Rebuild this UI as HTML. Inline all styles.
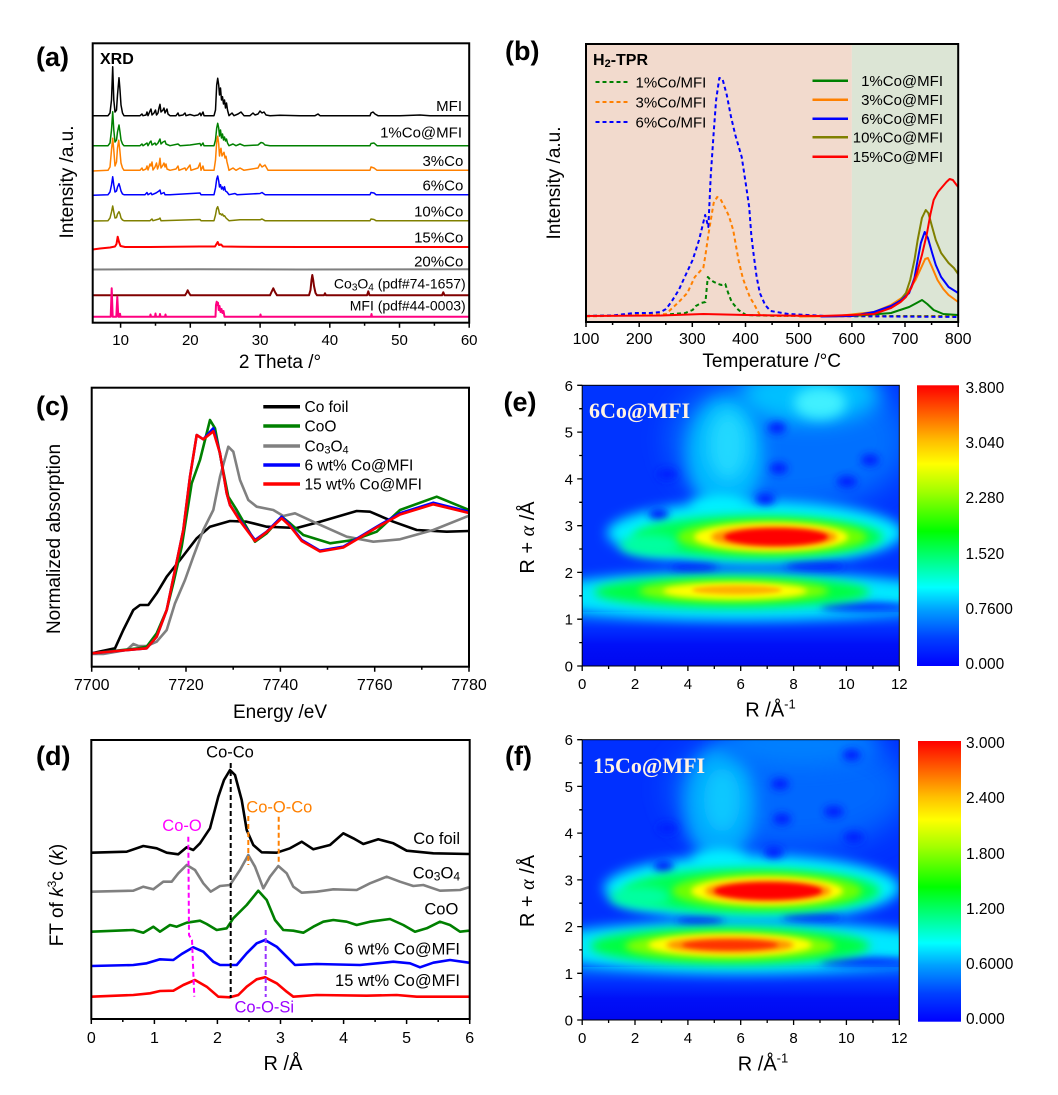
<!DOCTYPE html>
<html><head><meta charset="utf-8"><style>
html,body{margin:0;padding:0;background:#fff;}
svg{display:block;font-family:"Liberation Sans",Arial,sans-serif;}
</style></head><body>
<svg width="1058" height="1095" viewBox="0 0 1058 1095" xmlns="http://www.w3.org/2000/svg">
<defs>
<filter id="b2" filterUnits="userSpaceOnUse" x="0" y="0" width="1058" height="1095"><feGaussianBlur stdDeviation="2"/></filter>
<filter id="b3" filterUnits="userSpaceOnUse" x="0" y="0" width="1058" height="1095"><feGaussianBlur stdDeviation="3"/></filter>
<filter id="b4" filterUnits="userSpaceOnUse" x="0" y="0" width="1058" height="1095"><feGaussianBlur stdDeviation="4"/></filter>
<filter id="b5" filterUnits="userSpaceOnUse" x="0" y="0" width="1058" height="1095"><feGaussianBlur stdDeviation="5"/></filter>
<filter id="b6" filterUnits="userSpaceOnUse" x="0" y="0" width="1058" height="1095"><feGaussianBlur stdDeviation="6"/></filter>
<filter id="b8" filterUnits="userSpaceOnUse" x="0" y="0" width="1058" height="1095"><feGaussianBlur stdDeviation="8"/></filter>
<filter id="b10" filterUnits="userSpaceOnUse" x="0" y="0" width="1058" height="1095"><feGaussianBlur stdDeviation="10"/></filter>
<filter id="b15" filterUnits="userSpaceOnUse" x="0" y="0" width="1058" height="1095"><feGaussianBlur stdDeviation="15"/></filter>
<clipPath id="clipE"><rect x="582.2" y="385.3" width="317.1" height="280.7"/></clipPath>
<clipPath id="clipF"><rect x="582.2" y="739.7" width="317.1" height="280.3"/></clipPath>
<linearGradient id="botE" x1="0" y1="0" x2="0" y2="1">
<stop offset="0" stop-color="#0068ff"/><stop offset="0.3" stop-color="#0030ff"/><stop offset="0.6" stop-color="#0010f8"/><stop offset="1" stop-color="#0008f0"/>
</linearGradient>
<linearGradient id="cbar" x1="0" y1="1" x2="0" y2="0">
<stop offset="0" stop-color="#0000ff"/><stop offset="0.1" stop-color="#0040ff"/><stop offset="0.2" stop-color="#00a0ff"/><stop offset="0.28" stop-color="#00ffff"/><stop offset="0.38" stop-color="#00ff80"/><stop offset="0.48" stop-color="#00ff00"/><stop offset="0.62" stop-color="#a0ff00"/><stop offset="0.72" stop-color="#ffff00"/><stop offset="0.8" stop-color="#ffc000"/><stop offset="0.9" stop-color="#ff6000"/><stop offset="1" stop-color="#ff0000"/>
</linearGradient>
</defs>
<rect width="1058" height="1095" fill="#fff"/>

<!-- ================= (a) XRD ================= -->
<g fill="none" stroke-width="1.5" stroke-linejoin="round">
<polyline stroke="#000" points="92.7,115.7 108,115.7 110,113 111.5,100 112.7,66.7 113.8,100 115,112 116.5,110 117.5,95 119,77.7 120,90 121,105 122.5,113 124,115.7 140,115.7 142,114 143,115.7 146,115 147,112 148,115.7 150,111 151,109 152,115 154,113 155.5,110 156.5,115 158,113 159,108 160,104.3 161,112 163,110 164,108 165,113 166,111 167,109 168,114 170,115.7 176,115.7 178,113 179,115.7 183,115 185,113 186,115.7 190,114.5 194,115.7 198,115 200,113 201,115.7 203,112 204,115.7 214,115.7 215.5,110 216.7,85 217.7,78.3 218.7,85 219.5,95 220.5,88 221.5,100 222.5,96.7 223.5,104 224.5,100 225.5,108 226.5,103 227.5,110 229,115.7 232,113 234,115.7 238,114 241,112 244,115.7 250,115.7 253,113 255,115 258,114 260,111 262,113 264,112 266,115 270,115.7 280,115.3 300,115.7 315,115.7 318,114 320,115.7 340,115.7 370,115.7 371,113 373,112 375,114 378,115.7 400,115.7 420,115 430,115.7 469,115.7"/>
<polyline stroke="#008000" points="92.7,145.7 108,145.7 110,143 111.5,130 112.7,111.7 113.8,130 115,142 116.5,140 117.5,132 119,125 120,132 121,140 122.5,144 124,145.7 140,145.7 142,144 143,145.7 147,143 148,145.7 150,142 151,141 152,145 155,143 156,145 158,143 159,141 160,139 161,144 163,142 165,141 166,144 170,145.7 178,144 180,145.7 190,145 200,143.5 201,145.7 203,143 204,145.7 214,145.7 215.5,140 216.7,128 217.7,123.3 218.7,128 219.5,136 220.5,130 221.5,138 222.5,134 223.5,140 224.5,137 225.5,141 226.5,139 227.5,143 229,145.7 233,144 236,145.7 240,144 244,145.7 258,145 261,142.5 263,143 265,145 270,145.7 300,145.7 370,145.7 371,143.5 374,143 377,145.7 469,145.7"/>
<polyline stroke="#ff8000" points="92.7,171 108,170.3 110,167 111.5,150 112.7,138.3 113.8,150 115,166 116.5,162 117.5,148 118.7,140.3 119.8,150 121,163 122.5,168 124,170.3 140,170.3 142,168 143,170.3 146,169 147,166 148,170 150,164 151,166 152,162 153,170 155,167 156.5,163 157.5,169 159,165 160,158.3 161,168 163,165 164,163 165,167 166,164 167,169 170,170.3 176,169 178,166 179,170.3 185,168 186,170.3 190,165 191,170.3 198,168 200,163 201,170.3 203,166 204,170.3 214,170.3 215.5,160 216.7,142 217.7,136.3 218.7,144 219.5,156 220.3,150 221,148.3 222,156 223,154 224,152.3 225,158 226,156.3 227,162 228,166 229,170.3 233,168 236,170.3 240,168 244,170.3 258,168 260,164 262,167 265,165 268,170.3 300,170.3 370,170.3 371,167 374,168 377,170.3 469,170.3"/>
<polyline stroke="#0000ff" points="92.7,195.3 108,194.7 110,192 111.5,185 112.7,176.7 113.8,185 115,192 116.5,191 117.5,187 119,183.7 120,187 121,191 122.5,194 124,194.7 145,194.7 147,192.5 148,194.7 151,193 152,194.7 156,193 159,191 160,190 161,194 164,192.5 165,194.7 170,194.7 200,193 201,194.7 214,194.7 215.5,188 216.7,179 217.7,176 218.7,181 219.5,187 220.5,184.7 221.5,189 222.5,187 223.5,190 224.5,186.7 225.5,191 227,192 229,194.7 235,193.5 237,194.7 260,193.5 262,192.5 265,194.7 370,194.7 371,192.5 374,193 376,194.7 469,194.7"/>
<polyline stroke="#808000" points="92.7,221 108,220.7 110,218 111.5,212 112.7,206 113.8,212 115,218 116.5,217.5 117.5,214 119,211.7 120,214 121,218 122.5,220 124,220.7 150,220.7 152,219 153,220.7 159,219 160,218 161,220.7 200,219.5 201,220.7 214,220.7 215.5,215 216.7,208.5 217.7,206.7 218.7,210 219.5,214 220.5,213.7 221.5,215 222.5,214 223.5,216 224.5,215.7 226,218 229,220.7 240,219.7 260,219.8 262,219 265,220.7 370,220.7 371,219 374,219.5 376,220.7 469,220.7"/>
<polyline stroke="#ff0000" stroke-width="2" points="92.7,249.5 100,248.5 105,248 110,247.5 115,246.5 116.5,244 117.7,236.7 119,242 120.5,246 125,247 150,247 200,246.5 215,246.5 216.5,244 217.7,242 219,245 221,244.5 223,246.5 240,246.8 300,247 469,247"/>
<polyline stroke="#808080" stroke-width="2" points="92.7,269.5 200,269.3 300,269.5 469,269.3"/>
<polyline stroke="#800000" stroke-width="2" points="92.7,295.3 185,295.3 186.5,293 187.7,290.3 189,293 190.5,295.3 270,295.3 271.5,292 273.3,288.3 275,292 277,295.3 309,295.3 310.5,290 311.5,280 312.3,275 313.2,280 314,286 315.5,293 317,295.3 324,295.3 325,293.3 326,295.3 367,295.3 368.3,291.3 369.5,295.3 442,295.3 443.3,292.3 444.5,295.3 469,295.3"/>
<polyline stroke="#ff0080" stroke-width="2" points="92.7,316.7 110.7,316.7 111.7,288.3 112.7,316.7 116.3,316.7 117.3,296.7 118.3,316.7 119.5,316.7 120,313.7 120.5,316.7 150,316.7 150.5,314.5 151,316.7 155,316.7 155.5,313.5 156,316.7 159.5,316.7 160,314 160.5,316.7 165,316.7 165.5,314.5 166,316.7 215.5,316.7 216,305 216.7,301.7 217.3,305 218,302.7 218.7,310 219.5,306 220.5,312 221.5,309 222.5,313 223.5,311 224.5,316.7 260,316.7 260.5,314.5 261,316.7 371,316.7 371.5,314 372,316.7 469,316.7"/>
</g>
<rect x="92.7" y="43.3" width="376.5" height="279.4" fill="none" stroke="#000" stroke-width="2"/>
<path stroke="#000" stroke-width="1.5" d="M120.6,322.7v5M190.3,322.7v5M260.1,322.7v5M329.8,322.7v5M399.5,322.7v5M469.2,322.7v5M155.5,322.7v3M225.2,322.7v3M294.9,322.7v3M364.6,322.7v3M434.4,322.7v3"/>
<g font-size="15" text-anchor="middle">
<text x="120.6" y="345">10</text><text x="190.3" y="345">20</text><text x="260.1" y="345">30</text><text x="329.8" y="345">40</text><text x="399.5" y="345">50</text><text x="469.2" y="345">60</text>
</g>
<text x="280" y="368" font-size="19" text-anchor="middle">2 Theta /°</text>
<text transform="translate(73,182) rotate(-90)" font-size="19" text-anchor="middle">Intensity /a.u.</text>
<text x="36" y="66" font-size="27" font-weight="bold">(a)</text>
<text x="100" y="64" font-size="16" font-weight="bold">XRD</text>
<g font-size="15" text-anchor="end">
<text x="462" y="111">MFI</text>
<text x="462" y="137.7">1%Co@MFI</text>
<text x="463.3" y="166">3%Co</text>
<text x="463.3" y="190.7">6%Co</text>
<text x="463.3" y="216.7">10%Co</text>
<text x="463.3" y="242.7">15%Co</text>
<text x="463.3" y="266.7">20%Co</text>
</g>
<g font-size="14" text-anchor="end">
<text x="465.7" y="288.3">Co<tspan font-size="10" dy="2">3</tspan><tspan dy="-2">O</tspan><tspan font-size="10" dy="2">4</tspan><tspan dy="-2"> (pdf#74-1657)</tspan></text>
<text x="465.7" y="310.7">MFI (pdf#44-0003)</text>
</g>

<!-- ================= (b) H2-TPR ================= -->
<rect x="586" y="44" width="265.9" height="278" fill="#f2dacd"/>
<rect x="851.9" y="44" width="106.3" height="278" fill="#dce5d5"/>
<g transform="translate(-32.5,0) scale(1.0664,1)" fill="none" stroke-linejoin="round">
<g stroke-width="2" stroke-dasharray="4,3">
<polyline vector-effect="non-scaling-stroke" stroke="#008000" points="580,316 655,314.5 673,313 680,310 683,306 688,303 692,302 694.2,277 697,280 700,282 704,284 707,285 710.6,284 713,292 716.6,302 723,310 730,315 760,316 929,316"/>
<polyline vector-effect="non-scaling-stroke" stroke="#ff8000" points="580,316.5 630,315 655,314 667,302 675,293 682,277 688,270 690,268 692,255 695,233 699.7,203 703,197 706,199 710,207 714,216 718,230 723,260 727,278 730,287 734,298 737,303 743,315 760,316 929,316.5"/>
<polyline vector-effect="non-scaling-stroke" stroke="#0000ff" points="580,316 605,315.5 625,313 640,313 650,312 655,309 660,302 667,290 673,276 680,260 686,240 691.7,215 694.7,227 697,175 699.7,133 702,100 705,78 708,79 712,95 716,117 720,135 726,157 730,185 733,207 735,235 737,253 740,277 743,293 748,305 753,311 770,314 805,316 929,317"/>
</g>
<g stroke-width="2">
<polyline vector-effect="non-scaling-stroke" stroke="#008000" points="800,316 829,316 866,313 883,307 890,303 895.1,300 900,304 906,310 915,314 929,315"/>
<polyline vector-effect="non-scaling-stroke" stroke="#ff8000" points="780,316.5 816,316 850,312 866,305 876,298 883,290 889,280 894.6,267 898,259 900.6,258 904,266 909.6,280 915,289 920,295 929,302"/>
<polyline vector-effect="non-scaling-stroke" stroke="#808000" points="800,316.5 829,316 850,313 866,307 875,300 880,293 884,280 888,260 891,240 895,218 898.6,210 901,213 904.6,227 908,240 913,253 920,263 925,268 929,274"/>
<polyline vector-effect="non-scaling-stroke" stroke="#0000ff" points="800,316.5 829,316 850,312 866,306 876,300 883,293 888,278 891,260 894,243 897.6,232 900.6,238 904.6,253 908,265 913,277 920,287 929,293"/>
<polyline vector-effect="non-scaling-stroke" stroke="#ff0000" points="580,316 650,315.5 690,314 730,315 800,316 829,315 850,314 866,308 875,302 880,297 885,288 890,274 895,255 899.6,234 903,214 906,200 910,192 914,187 918,182 921,179 924,180 927.5,185 929,187"/>
</g>
</g>
<rect x="586" y="44" width="372.2" height="278" fill="none" stroke="#000" stroke-width="2"/>
<path stroke="#000" stroke-width="1.5" d="M586,322v5M639.2,322v5M692.3,322v5M745.5,322v5M798.7,322v5M851.9,322v5M905,322v5M958.2,322v5M612.6,322v3M665.8,322v3M718.9,322v3M772.1,322v3M825.3,322v3M878.5,322v3M931.6,322v3"/>
<g font-size="16" text-anchor="middle">
<text x="586" y="344">100</text><text x="639.2" y="344">200</text><text x="692.3" y="344">300</text><text x="745.5" y="344">400</text><text x="798.7" y="344">500</text><text x="851.9" y="344">600</text><text x="905" y="344">700</text><text x="958.2" y="344">800</text>
</g>
<text x="771.7" y="367" font-size="19" text-anchor="middle">Temperature /°C</text>
<text transform="translate(560,183) rotate(-90)" font-size="19" text-anchor="middle">Intensity /a.u.</text>
<text x="505" y="60" font-size="27" font-weight="bold">(b)</text>
<text x="593" y="65" font-size="16" font-weight="bold">H<tspan font-size="11" dy="2">2</tspan><tspan dy="-2">-TPR</tspan></text>
<g stroke-width="2" stroke-dasharray="4,3">
<line x1="595.5" y1="82" x2="628" y2="82" stroke="#008000"/>
<line x1="595.5" y1="102" x2="628" y2="102" stroke="#ff8000"/>
<line x1="595.5" y1="122" x2="628" y2="122" stroke="#0000ff"/>
</g>
<g font-size="15">
<text x="635.5" y="87.5">1%Co/MFI</text>
<text x="635.5" y="107.5">3%Co/MFI</text>
<text x="635.5" y="127.5">6%Co/MFI</text>
</g>
<g stroke-width="2.5">
<line x1="812.5" y1="80.7" x2="848" y2="80.7" stroke="#008000"/>
<line x1="812.5" y1="99.7" x2="848" y2="99.7" stroke="#ff8000"/>
<line x1="812.5" y1="118.7" x2="848" y2="118.7" stroke="#0000ff"/>
<line x1="812.5" y1="137.3" x2="848" y2="137.3" stroke="#808000"/>
<line x1="812.5" y1="156.7" x2="848" y2="156.7" stroke="#ff0000"/>
</g>
<g font-size="15" text-anchor="end">
<text x="943" y="86">1%Co@MFI</text>
<text x="943" y="105">3%Co@MFI</text>
<text x="943" y="124">6%Co@MFI</text>
<text x="943" y="142.6">10%Co@MFI</text>
<text x="943" y="162">15%Co@MFI</text>
</g>

<!-- ================= (c) XANES ================= -->
<g fill="none" stroke-width="2.6" stroke-linejoin="round">
<polyline stroke="#000" points="91.7,653.3 115,648.3 123.3,630 133.3,610 140,605 148.3,605 156.7,593.3 166.7,576.7 180,560 196.7,538.3 210,526.7 230,521 246.7,521.7 266.7,526.7 296.7,528 320,521.7 356.7,511 370,511.7 393.3,521.7 416.7,530 446.7,531.7 469,531"/>
<polyline stroke="#808080" points="91.7,654 103.3,654 126.7,650 133.3,644 138.3,646 146.7,646 156.7,641.7 166.7,630 175,603.3 185,580 193.3,556.7 203.3,530 213.3,510 220,476.7 228.3,446.7 233.3,451.7 240,480 248.3,500 256.7,506.7 273.3,510 283.3,516 295,513.3 316.7,523.3 346.7,536.7 373.3,541.7 400,539.3 433.3,530 469,515.7"/>
<polyline stroke="#008000" points="91.7,653.3 138.3,648.3 146.7,646.7 156.7,633.3 166.7,610 173.3,583.3 181.7,546.7 191.7,483.3 200,460 210,420 215,428.3 221.7,463.3 228.3,496.7 236.7,510 255,541.7 266.7,533.3 281.7,516.7 290,523.3 303.3,535 330,543.3 353.3,540 376.7,531.7 400,510 436.7,496.7 469,510"/>
<polyline stroke="#0000ff" points="91.7,653.3 146.7,648.3 156.7,636.7 166.7,610 175,570 183.3,530 190,476.7 196.7,435 203.3,439.3 213.3,428.3 220,453.3 226.7,493.3 230,505 240,520 255,540 266.7,531.7 281.7,516.7 290,525 301.7,540 320,550.7 343.3,546.7 376.7,526.7 400,513.3 433.3,502.7 469,511.7"/>
<polyline stroke="#ff0000" points="91.7,653.3 146.7,648.3 156.7,636.7 166.7,610 175,570 183.3,530 190,476.7 196.7,435 203.3,439.3 213.3,431.3 220,453.3 226.7,493.3 230,505 240,521 255,541 266.7,532 281.7,518.3 290,526 301.7,541 320,551.5 343.3,547.5 376.7,527.5 400,514.5 433.3,504.3 469,513"/>
</g>
<rect x="91.7" y="387.7" width="377.3" height="279" fill="none" stroke="#000" stroke-width="2"/>
<path stroke="#000" stroke-width="1.5" d="M91.7,666.7v5M186,666.7v5M280.4,666.7v5M374.7,666.7v5M469,666.7v5M138.9,666.7v3M233.2,666.7v3M327.5,666.7v3M421.8,666.7v3"/>
<g font-size="16" text-anchor="middle">
<text x="91.7" y="690">7700</text><text x="186" y="690">7720</text><text x="280.4" y="690">7740</text><text x="374.7" y="690">7760</text><text x="469" y="690">7780</text>
</g>
<text x="280" y="718" font-size="19" text-anchor="middle">Energy /eV</text>
<text transform="translate(60,539) rotate(-90)" font-size="19" text-anchor="middle">Normalized absorption</text>
<text x="36" y="415" font-size="27" font-weight="bold">(c)</text>
<g stroke-width="3.5">
<line x1="263.3" y1="406.7" x2="300" y2="406.7" stroke="#000"/>
<line x1="263.3" y1="426" x2="300" y2="426" stroke="#008000"/>
<line x1="263.3" y1="446" x2="300" y2="446" stroke="#808080"/>
<line x1="263.3" y1="465" x2="300" y2="465" stroke="#0000ff"/>
<line x1="263.3" y1="484" x2="300" y2="484" stroke="#ff0000"/>
</g>
<g font-size="15.5">
<text x="304.5" y="412.2">Co foil</text>
<text x="304.5" y="431.5">CoO</text>
<text x="304.5" y="451.5">Co<tspan font-size="11" dy="2">3</tspan><tspan dy="-2">O</tspan><tspan font-size="11" dy="2">4</tspan></text>
<text x="304.5" y="470.5">6 wt% Co@MFI</text>
<text x="304.5" y="489.5">15 wt% Co@MFI</text>
</g>

<!-- ================= (d) EXAFS ================= -->
<g fill="none" stroke-width="2.6" stroke-linejoin="round">
<polyline stroke="#000" points="91.3,852.7 126.7,851.7 143.3,846 156.7,848.3 166.7,852.7 178.3,854.3 186.7,847.3 193.3,850 200,843.3 210,828.3 218.3,796.7 224,780 230,770 235,775 241.7,800 246.7,830 253.3,845 261.7,852.3 276.7,852.7 290,848.3 301.7,841.7 313.3,849.3 330,845 343.3,833.3 353.3,838.3 363.3,844 378.3,839.3 393.3,843.3 406.7,850.7 433.3,853.3 469,854"/>
<polyline stroke="#808080" points="91.3,891.7 133.3,890.7 143.3,886.7 153.3,889.3 163.3,881.7 171.7,881.7 178.3,873.3 186.7,865 195,870 203.3,883.3 210.7,891.7 220,886 230,885 240,870 248.3,855 255,866.7 263.3,888.3 270,876.7 278.3,866 286.7,873.3 293.3,886.7 301.7,892.7 316.7,891.7 333.3,889.3 356.7,890 370,883.3 386.7,876.7 400,881.7 413.3,886 423.3,885 440,890.7 460,890 469,887.3"/>
<polyline stroke="#008000" points="91.3,931.7 133.3,930 143.3,932.7 153.3,926.7 160,931.7 170,925 176.7,926.7 186.7,922.7 200,920.7 206.7,924 216.7,930 226.7,928.3 233.3,918.3 246.7,905 258.3,890.7 266.7,900 275,920 283.3,930 293.3,930.7 303.3,932.7 313.3,926.7 323.3,921.7 333.3,920 346.7,921.7 356.7,925 370,921.7 390,919 403.3,925 415,931.7 426.7,928.3 440,921.7 450,925 460,931.7 469,930.7"/>
<polyline stroke="#0000ff" points="91.3,966 133.3,965 146.7,963.3 160,959.3 173.3,960 181.7,954 193.3,947.3 203.3,951.7 213.3,961.7 220,965 236.7,965 246.7,953.3 256.7,943.3 265,940 276.7,946.7 286.7,956.7 295,965 316.7,964 360,965 393.3,961.7 410,963.3 420,967.3 433.3,962.7 450,960 469,962.7"/>
<polyline stroke="#ff0000" points="91.3,996.7 133.3,995 150,993.3 160,991 173.3,990.7 183.3,985 195,980 206.7,986.7 218.3,996.7 230,997.3 238.3,995 246.7,986.7 256.7,979.3 265,977.3 276.7,983.3 286.7,991.7 293.3,996.7 316.7,995 366.7,995.7 396.7,995 416.7,996.7 469,996.7"/>
</g>
<g fill="none" stroke-width="2" stroke-dasharray="5,3">
<line x1="230.7" y1="763" x2="230.7" y2="998" stroke="#000"/>
<line x1="248.3" y1="816" x2="248.3" y2="865" stroke="#ff8000"/>
<line x1="278.7" y1="816.7" x2="278.7" y2="862" stroke="#ff8000"/>
<polyline points="188.3,836.7 189,935 192,940 194.3,996.7" stroke="#ff00ff"/>
<line x1="265.7" y1="930" x2="265.7" y2="997" stroke="#9933ff"/>
</g>
<rect x="91.3" y="740" width="378.4" height="279" fill="none" stroke="#000" stroke-width="2"/>
<path stroke="#000" stroke-width="1.5" d="M91.3,1019v5M154.4,1019v5M217.4,1019v5M280.5,1019v5M343.6,1019v5M406.6,1019v5M469.7,1019v5M122.8,1019v3M185.9,1019v3M249,1019v3M312,1019v3M375.1,1019v3M438.2,1019v3"/>
<g font-size="16" text-anchor="middle">
<text x="91.3" y="1043">0</text><text x="154.4" y="1043">1</text><text x="217.4" y="1043">2</text><text x="280.5" y="1043">3</text><text x="343.6" y="1043">4</text><text x="406.6" y="1043">5</text><text x="469.7" y="1043">6</text>
</g>
<text x="283" y="1070" font-size="20" text-anchor="middle">R /Å</text>
<text transform="translate(63,895) rotate(-90)" font-size="19" text-anchor="middle">FT of <tspan font-style="italic">k</tspan><tspan font-size="12" dy="-7">3</tspan><tspan dy="7">c (</tspan><tspan font-style="italic">k</tspan>)</text>
<text x="36" y="765" font-size="27" font-weight="bold">(d)</text>
<g font-size="16.5" text-anchor="middle">
<text x="230" y="757.3" fill="#000">Co-Co</text>
<text x="279.3" y="812.7" fill="#ff8000">Co-O-Co</text>
<text x="182" y="831" fill="#ff00ff">Co-O</text>
<text x="264.3" y="1012.3" fill="#9900ff">Co-O-Si</text>
</g>
<g font-size="16.5" text-anchor="end">
<text x="460" y="844">Co foil</text>
<text x="460" y="878.3">Co<tspan font-size="12" dy="2">3</tspan><tspan dy="-2">O</tspan><tspan font-size="12" dy="2">4</tspan></text>
<text x="458.3" y="914.3">CoO</text>
<text x="460" y="954.3">6 wt% Co@MFI</text>
<text x="460" y="986">15 wt% Co@MFI</text>
</g>

<!-- ================= (e) WT map ================= -->
<g clip-path="url(#clipE)">
<rect x="582.2" y="385.3" width="317.1" height="280.7" fill="#0034ff"/>
<ellipse cx="790" cy="440" rx="120" ry="70" fill="#0070ff" filter="url(#b15)"/>
<ellipse cx="725" cy="455" rx="38" ry="58" fill="#00b8ff" filter="url(#b8)"/>
<ellipse cx="728" cy="445" rx="20" ry="35" fill="#20d8ff" filter="url(#b8)"/>
<ellipse cx="810" cy="395" rx="70" ry="28" fill="#00c0ff" filter="url(#b10)"/>
<ellipse cx="820" cy="403" rx="26" ry="16" fill="#40f0ff" filter="url(#b6)"/>
<rect x="582" y="612" width="318" height="54" fill="url(#botE)"/>
<ellipse cx="740" cy="596" rx="210" ry="24" fill="#00e8ff" filter="url(#b6)"/>
<ellipse cx="755" cy="533" rx="148" ry="32" fill="#00f0ff" filter="url(#b6)"/>
<ellipse cx="718" cy="508" rx="28" ry="12" fill="#00f0ff" filter="url(#b6)"/>
<g fill="#0020ff" filter="url(#b4)">
<ellipse cx="694" cy="567.5" rx="24" ry="4"/>
<ellipse cx="815" cy="566" rx="30" ry="4"/>
<ellipse cx="865" cy="607" rx="45" ry="5" fill="#0030ff"/>
<ellipse cx="777" cy="427.7" rx="9" ry="6"/>
<ellipse cx="778.7" cy="468.3" rx="9" ry="6"/>
<ellipse cx="667" cy="474.3" rx="10" ry="6"/>
<ellipse cx="765.3" cy="499" rx="10" ry="6"/>
<ellipse cx="658.7" cy="514.3" rx="10" ry="6"/>
<ellipse cx="847" cy="481.7" rx="10" ry="6"/>
<ellipse cx="870" cy="460" rx="9" ry="6"/>
</g>
<ellipse cx="758" cy="537" rx="125" ry="22" fill="#00ff50" filter="url(#b5)"/>
<ellipse cx="650" cy="545" rx="30" ry="11" fill="#00ffa0" filter="url(#b5)"/>
<ellipse cx="772" cy="537" rx="95" ry="17" fill="#70ff00" filter="url(#b4)"/>
<ellipse cx="771" cy="537" rx="77" ry="14" fill="#ffff00" filter="url(#b3)"/>
<ellipse cx="774" cy="537" rx="63" ry="11" fill="#ff9000" filter="url(#b3)"/>
<ellipse cx="776" cy="537" rx="52" ry="8.5" fill="#ff0000" filter="url(#b2)"/>
<ellipse cx="732" cy="592" rx="138" ry="16" fill="#00ff40" filter="url(#b5)"/>
<ellipse cx="734" cy="591" rx="95" ry="11" fill="#80ff00" filter="url(#b4)"/>
<ellipse cx="735" cy="591" rx="72" ry="8" fill="#ffff00" filter="url(#b3)"/>
<ellipse cx="737" cy="590" rx="45" ry="4.5" fill="#ffb000" filter="url(#b2)"/>
</g>
<rect x="582.2" y="385.3" width="317.1" height="280.7" fill="none" stroke="#000" stroke-width="1"/>
<text x="589" y="418" font-family="'Liberation Serif',serif" font-size="22" font-weight="bold" fill="#fff2e2">6Co@MFI</text>
<path stroke="#000" stroke-width="1.3" d="M582.2,666v5M635,666v5M687.9,666v5M740.7,666v5M793.6,666v5M846.4,666v5M899.3,666v5M608.6,666v3M661.5,666v3M714.3,666v3M767.2,666v3M820,666v3M872.9,666v3M582.2,666h-5M582.2,619.2h-5M582.2,572.4h-5M582.2,525.7h-5M582.2,478.9h-5M582.2,432.1h-5M582.2,385.3h-5M582.2,642.6h-3M582.2,595.8h-3M582.2,549h-3M582.2,502.3h-3M582.2,455.5h-3M582.2,408.7h-3"/>
<g font-size="15" text-anchor="middle">
<text x="582.2" y="689">0</text><text x="635" y="689">2</text><text x="687.9" y="689">4</text><text x="740.7" y="689">6</text><text x="793.6" y="689">8</text><text x="846.4" y="689">10</text><text x="899.3" y="689">12</text>
</g>
<g font-size="15" text-anchor="end">
<text x="573" y="671.5">0</text><text x="573" y="624.7">1</text><text x="573" y="577.9">2</text><text x="573" y="531.2">3</text><text x="573" y="484.4">4</text><text x="573" y="437.6">5</text><text x="573" y="390.8">6</text>
</g>
<text x="770.5" y="716.7" font-size="20" text-anchor="middle">R /Å<tspan font-size="13" dy="-8">-1</tspan></text>
<text transform="translate(534,537.5) rotate(-90)" font-size="20" text-anchor="middle">R + <tspan font-family="'Liberation Serif',serif" font-style="italic">α</tspan> /Å</text>
<text x="503.5" y="411" font-size="27" font-weight="bold">(e)</text>
<rect x="917" y="385.3" width="42" height="280.7" fill="url(#cbar)"/>
<g font-size="15.5">
<text x="965.5" y="392.8">3.800</text>
<text x="965.5" y="447.8">3.040</text>
<text x="965.5" y="503.2">2.280</text>
<text x="965.5" y="558.8">1.520</text>
<text x="965.5" y="613.8">0.7600</text>
<text x="965.5" y="668.8">0.000</text>
</g>

<!-- ================= (f) WT map ================= -->
<g clip-path="url(#clipF)">
<rect x="582.2" y="739.7" width="317.1" height="280.3" fill="#0030ff"/>
<ellipse cx="790" cy="790" rx="120" ry="60" fill="#0068ff" filter="url(#b15)"/>
<ellipse cx="720" cy="805" rx="36" ry="58" fill="#00a8ff" filter="url(#b8)"/>
<ellipse cx="722" cy="800" rx="18" ry="32" fill="#10c8ff" filter="url(#b8)"/>
<ellipse cx="800" cy="745" rx="80" ry="20" fill="#0080ff" filter="url(#b10)"/>
<rect x="582" y="967" width="318" height="53" fill="url(#botE)"/>
<ellipse cx="740" cy="947" rx="210" ry="26" fill="#00e8ff" filter="url(#b6)"/>
<ellipse cx="752" cy="888" rx="148" ry="33" fill="#00f0ff" filter="url(#b6)"/>
<ellipse cx="720" cy="862" rx="28" ry="12" fill="#00f0ff" filter="url(#b6)"/>
<g fill="#0020ff" filter="url(#b4)">
<ellipse cx="700" cy="920.7" rx="24" ry="4"/>
<ellipse cx="812" cy="917.3" rx="30" ry="4"/>
<ellipse cx="865" cy="962" rx="45" ry="5" fill="#0030ff"/>
<ellipse cx="780" cy="784" rx="9" ry="6"/>
<ellipse cx="782" cy="819" rx="9" ry="6"/>
<ellipse cx="833.7" cy="811.7" rx="10" ry="6"/>
<ellipse cx="853.7" cy="837.3" rx="10" ry="6"/>
<ellipse cx="667" cy="828.3" rx="10" ry="6"/>
<ellipse cx="773.7" cy="852.3" rx="10" ry="6"/>
<ellipse cx="663.7" cy="866.3" rx="10" ry="6"/>
<ellipse cx="851.7" cy="755" rx="9" ry="6"/>
</g>
<ellipse cx="752" cy="891" rx="128" ry="23" fill="#00ff50" filter="url(#b5)"/>
<ellipse cx="640" cy="897" rx="30" ry="11" fill="#00ffa0" filter="url(#b5)"/>
<ellipse cx="767" cy="891" rx="95" ry="18" fill="#70ff00" filter="url(#b4)"/>
<ellipse cx="767" cy="891" rx="76" ry="14" fill="#ffff00" filter="url(#b3)"/>
<ellipse cx="768" cy="891" rx="63" ry="11" fill="#ff9000" filter="url(#b3)"/>
<ellipse cx="768" cy="891" rx="54" ry="8.5" fill="#ff0000" filter="url(#b2)"/>
<ellipse cx="730" cy="946" rx="140" ry="19" fill="#00ff40" filter="url(#b5)"/>
<ellipse cx="730" cy="946" rx="105" ry="14" fill="#80ff00" filter="url(#b4)"/>
<ellipse cx="730" cy="945" rx="82" ry="11" fill="#ffff00" filter="url(#b3)"/>
<ellipse cx="730" cy="945" rx="64" ry="8" fill="#ff9000" filter="url(#b3)"/>
<ellipse cx="730" cy="945" rx="48" ry="5" fill="#ff3000" filter="url(#b2)"/>
</g>
<rect x="582.2" y="739.7" width="317.1" height="280.3" fill="none" stroke="#000" stroke-width="1"/>
<text x="593" y="773" font-family="'Liberation Serif',serif" font-size="22" font-weight="bold" fill="#fff2e2">15Co@MFI</text>
<path stroke="#000" stroke-width="1.3" d="M582.2,1020v5M635,1020v5M687.9,1020v5M740.7,1020v5M793.6,1020v5M846.4,1020v5M899.3,1020v5M608.6,1020v3M661.5,1020v3M714.3,1020v3M767.2,1020v3M820,1020v3M872.9,1020v3M582.2,1020h-5M582.2,973.3h-5M582.2,926.6h-5M582.2,879.9h-5M582.2,833.1h-5M582.2,786.4h-5M582.2,739.7h-5M582.2,996.6h-3M582.2,949.9h-3M582.2,903.2h-3M582.2,856.5h-3M582.2,809.8h-3M582.2,763h-3"/>
<g font-size="15" text-anchor="middle">
<text x="582.2" y="1043">0</text><text x="635" y="1043">2</text><text x="687.9" y="1043">4</text><text x="740.7" y="1043">6</text><text x="793.6" y="1043">8</text><text x="846.4" y="1043">10</text><text x="899.3" y="1043">12</text>
</g>
<g font-size="15" text-anchor="end">
<text x="573" y="1025.5">0</text><text x="573" y="978.8">1</text><text x="573" y="932.1">2</text><text x="573" y="885.4">3</text><text x="573" y="838.6">4</text><text x="573" y="791.9">5</text><text x="573" y="745.2">6</text>
</g>
<text x="763" y="1070.7" font-size="20" text-anchor="middle">R /Å<tspan font-size="13" dy="-8">-1</tspan></text>
<text transform="translate(534,891) rotate(-90)" font-size="20" text-anchor="middle">R + <tspan font-family="'Liberation Serif',serif" font-style="italic">α</tspan> /Å</text>
<text x="505" y="765" font-size="27" font-weight="bold">(f)</text>
<rect x="918" y="741" width="43" height="280.7" fill="url(#cbar)"/>
<g font-size="15.5">
<text x="966" y="748.2">3.000</text>
<text x="966" y="803.2">2.400</text>
<text x="966" y="858.8">1.800</text>
<text x="966" y="913.8">1.200</text>
<text x="966" y="968.8">0.6000</text>
<text x="966" y="1023.8">0.000</text>
</g>
</svg>
</body></html>
